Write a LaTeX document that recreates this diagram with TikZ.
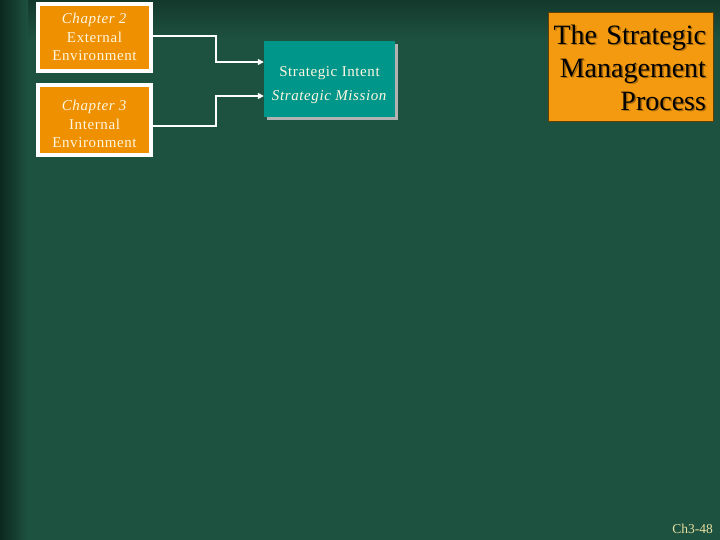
\documentclass[tikz,border=0pt]{standalone}
\usepackage{fontspec}
\setmainfont{Liberation Serif}
\newfontfamily\spacedfont[LetterSpace=4]{Liberation Serif}
\usetikzlibrary{arrows.meta}
\definecolor{bggreen}{HTML}{1E5240}
\definecolor{bgdark}{HTML}{0C281E}
\definecolor{chaporange}{HTML}{EE9000}
\definecolor{titleorange}{HTML}{F39A10}
\definecolor{stratteal}{HTML}{00978A}
\definecolor{cream}{HTML}{FFF6E0}
\definecolor{pageno}{HTML}{E6DFA0}
\newcommand{\lowerline}[2]{\raisebox{-#1}[\height][\depth]{#2}}
\tikzset{
  chapbox/.style={draw=white, line width=4pt, fill=chaporange, text=cream,
    align=center, minimum width=113pt, inner sep=0pt,
    font=\spacedfont\fontsize{15}{18}\selectfont},
  stratbox/.style={fill=stratteal, text=cream, align=center,
    minimum width=131pt, minimum height=76pt, inner sep=0pt,
    font=\spacedfont\fontsize{15}{24}\selectfont},
  titlebox/.style={fill=titleorange, draw=black!60!titleorange,
    minimum width=165pt, minimum height=109pt},
  titletext/.style={align=right, text width=165pt, inner xsep=7pt, text=black,
    anchor=east, font=\fontsize{28}{33}\selectfont},
  conn/.style={draw=white, line width=1.6pt, -{Triangle[length=6pt,width=6pt]}},
}
\begin{document}
\begin{tikzpicture}[x=1pt, y=-1pt]
    \useasboundingbox (0,0) rectangle (720,540);
    % background
    \fill[bggreen] (0,0) rectangle (720,540);
    \shade[top color=bgdark!60!bggreen, bottom color=bggreen] (0,0) rectangle (720,40);
    \shade[left color=bgdark, right color=bggreen] (0,0) rectangle (28,540);

    \node[chapbox, minimum height=67pt] (ch2) at (94.5,37.5)
      {\lowerline{-1pt}{\textit{Chapter 2}}\\External\\Environment};
    \node[chapbox, minimum height=70pt] (ch3) at (94.5,120)
      {\lowerline{3pt}{\textit{Chapter 3}}\\\lowerline{4pt}{Internal}\\\lowerline{4pt}{Environment}};

    \fill[black!30] (267,44) rectangle (398,120);
    \node[stratbox] (strat) at (329.5,79)
      {\lowerline{6pt}{Strategic Intent}\\\lowerline{6pt}{\textit{Strategic Mission}}};

    \node[titlebox] (title) at (630.5,66.5) {};
    \node[titletext, text=black!30!titleorange] (titleshade)
      at ([shift={(1.5,2.5)}]title.east)
      {The Strategic\\Management\\Process};
    \node[titletext] (titlelines) at ([yshift=-1pt]title.east)
      {The Strategic\\Management\\Process};

    \node[anchor=base east, text=pageno, inner sep=0pt,
      font=\fontsize{13.5}{15}\selectfont] (page) at (713,533) {Ch3-48};

    \coordinate (bend) at (216,0);
    \draw[conn] ([yshift=1.5pt]ch2.east) -| ([yshift=1.5pt]ch2.east -| bend)
      |- ([yshift=17pt]strat.west);
    \draw[conn] ([yshift=-6pt]ch3.east) -| ([yshift=-6pt]ch3.east -| bend)
      |- ([yshift=-17pt]strat.west);
\end{tikzpicture}
\end{document}
